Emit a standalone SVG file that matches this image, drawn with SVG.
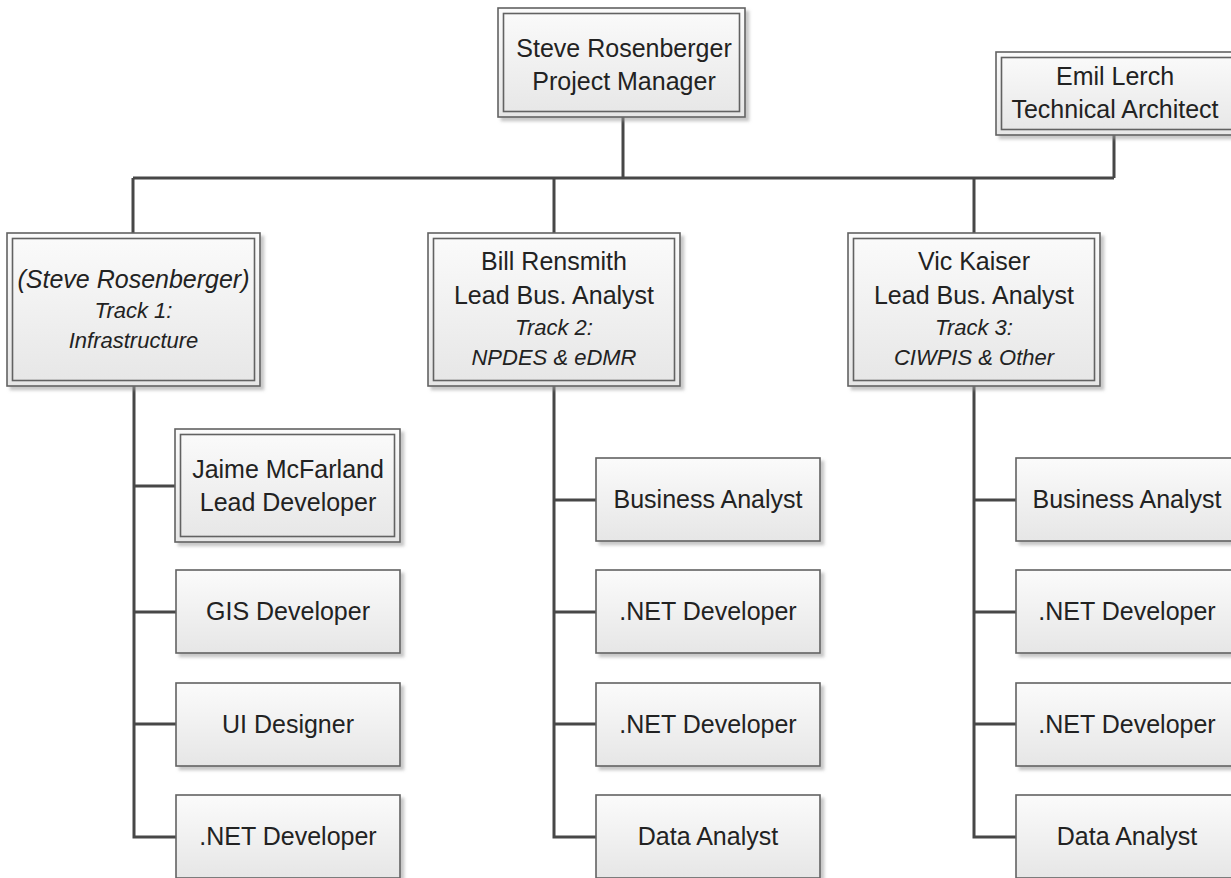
<svg xmlns="http://www.w3.org/2000/svg" width="1231" height="878" viewBox="0 0 1231 878">
<style>
.box{fill:url(#g);stroke:#626262;stroke-width:1.6;filter:url(#sh)}
.inner{fill:none;stroke:#626262;stroke-width:1.6}
.t{font-family:"Liberation Sans",Arial,sans-serif;font-size:25px;fill:#222;text-anchor:middle}
.i{font-style:italic;font-size:22px}
.c{fill:none;stroke:#474747;stroke-width:3}
</style>
<defs>
<linearGradient id="g" x1="0" y1="0" x2="0" y2="1">
<stop offset="0" stop-color="#fbfbfb"/>
<stop offset="1" stop-color="#e6e6e6"/>
</linearGradient>
<filter id="sh" x="-5%" y="-5%" width="115%" height="120%">
<feDropShadow dx="3.5" dy="3.5" stdDeviation="1.5" flood-color="#9a9a9a" flood-opacity="0.55"/>
</filter>
</defs>
<rect width="1231" height="878" fill="#fff"/>
<g id="connectors">
<path class="c" d="M623 117V178M133 178H1114M1114 135V178M133 178V233M554 178V233M974 178V233"/>
<path class="c" d="M134 386V837H176M134 486H175M134 612H176M134 724H176"/>
<path class="c" d="M554 386V837H596M554 500H596M554 612H596M554 724H596"/>
<path class="c" d="M974 386V837H1016M974 500H1016M974 612H1016M974 724H1016"/>
</g>
<g id="pm">
<rect class="box" x="498" y="8" width="247" height="109"/>
<rect class="inner" x="503.5" y="13.5" width="236" height="98"/>
<text class="t" x="624" y="57">Steve Rosenberger</text>
<text class="t" x="624" y="90">Project Manager</text>
</g>
<g id="ta">
<rect class="box" x="996" y="52" width="245" height="83"/>
<rect class="inner" x="1001.5" y="57.5" width="240" height="72"/>
<text class="t" x="1115" y="85">Emil Lerch</text>
<text class="t" x="1115" y="118">Technical Architect</text>
</g>
<g id="track1">
<rect class="box" x="7" y="233" width="253" height="153"/>
<rect class="inner" x="12.5" y="238.5" width="242" height="142"/>
<text class="t" x="133.5" y="288" font-style="italic" font-size="24.5">(Steve Rosenberger)</text>
<text class="t i" x="133.5" y="318">Track 1:</text>
<text class="t i" x="133.5" y="348">Infrastructure</text>
</g>
<g id="track2">
<rect class="box" x="428" y="233" width="252" height="153"/>
<rect class="inner" x="433.5" y="238.5" width="241" height="142"/>
<text class="t" x="554" y="270">Bill Rensmith</text>
<text class="t" x="554" y="304">Lead Bus. Analyst</text>
<text class="t i" x="554" y="335">Track 2:</text>
<text class="t i" x="554" y="365">NPDES &amp; eDMR</text>
</g>
<g id="track3">
<rect class="box" x="848" y="233" width="252" height="153"/>
<rect class="inner" x="853.5" y="238.5" width="241" height="142"/>
<text class="t" x="974" y="270">Vic Kaiser</text>
<text class="t" x="974" y="304">Lead Bus. Analyst</text>
<text class="t i" x="974" y="335">Track 3:</text>
<text class="t i" x="974" y="365">CIWPIS &amp; Other</text>
</g>
<g id="lead-dev">
<rect class="box" x="175" y="429" width="225" height="113"/>
<rect class="inner" x="180.5" y="434.5" width="214" height="102"/>
<text class="t" x="288" y="478">Jaime McFarland</text>
<text class="t" x="288" y="511">Lead Developer</text>
</g>
<g id="gis-dev">
<rect class="box" x="176" y="570" width="224" height="83"/>
<text class="t" x="288" y="620">GIS Developer</text>
</g>
<g id="ui-designer">
<rect class="box" x="176" y="683" width="224" height="83"/>
<text class="t" x="288" y="733">UI Designer</text>
</g>
<g id="net-dev-1">
<rect class="box" x="176" y="795" width="224" height="83"/>
<text class="t" x="288" y="845">.NET Developer</text>
</g>
<g id="ba-2">
<rect class="box" x="596" y="458" width="224" height="83"/>
<text class="t" x="708" y="508">Business Analyst</text>
</g>
<g id="net-dev-2a">
<rect class="box" x="596" y="570" width="224" height="83"/>
<text class="t" x="708" y="620">.NET Developer</text>
</g>
<g id="net-dev-2b">
<rect class="box" x="596" y="683" width="224" height="83"/>
<text class="t" x="708" y="733">.NET Developer</text>
</g>
<g id="da-2">
<rect class="box" x="596" y="795" width="224" height="83"/>
<text class="t" x="708" y="845">Data Analyst</text>
</g>
<g id="ba-3">
<rect class="box" x="1016" y="458" width="224" height="83"/>
<text class="t" x="1127" y="508">Business Analyst</text>
</g>
<g id="net-dev-3a">
<rect class="box" x="1016" y="570" width="224" height="83"/>
<text class="t" x="1127" y="620">.NET Developer</text>
</g>
<g id="net-dev-3b">
<rect class="box" x="1016" y="683" width="224" height="83"/>
<text class="t" x="1127" y="733">.NET Developer</text>
</g>
<g id="da-3">
<rect class="box" x="1016" y="795" width="224" height="83"/>
<text class="t" x="1127" y="845">Data Analyst</text>
</g>
</svg>
